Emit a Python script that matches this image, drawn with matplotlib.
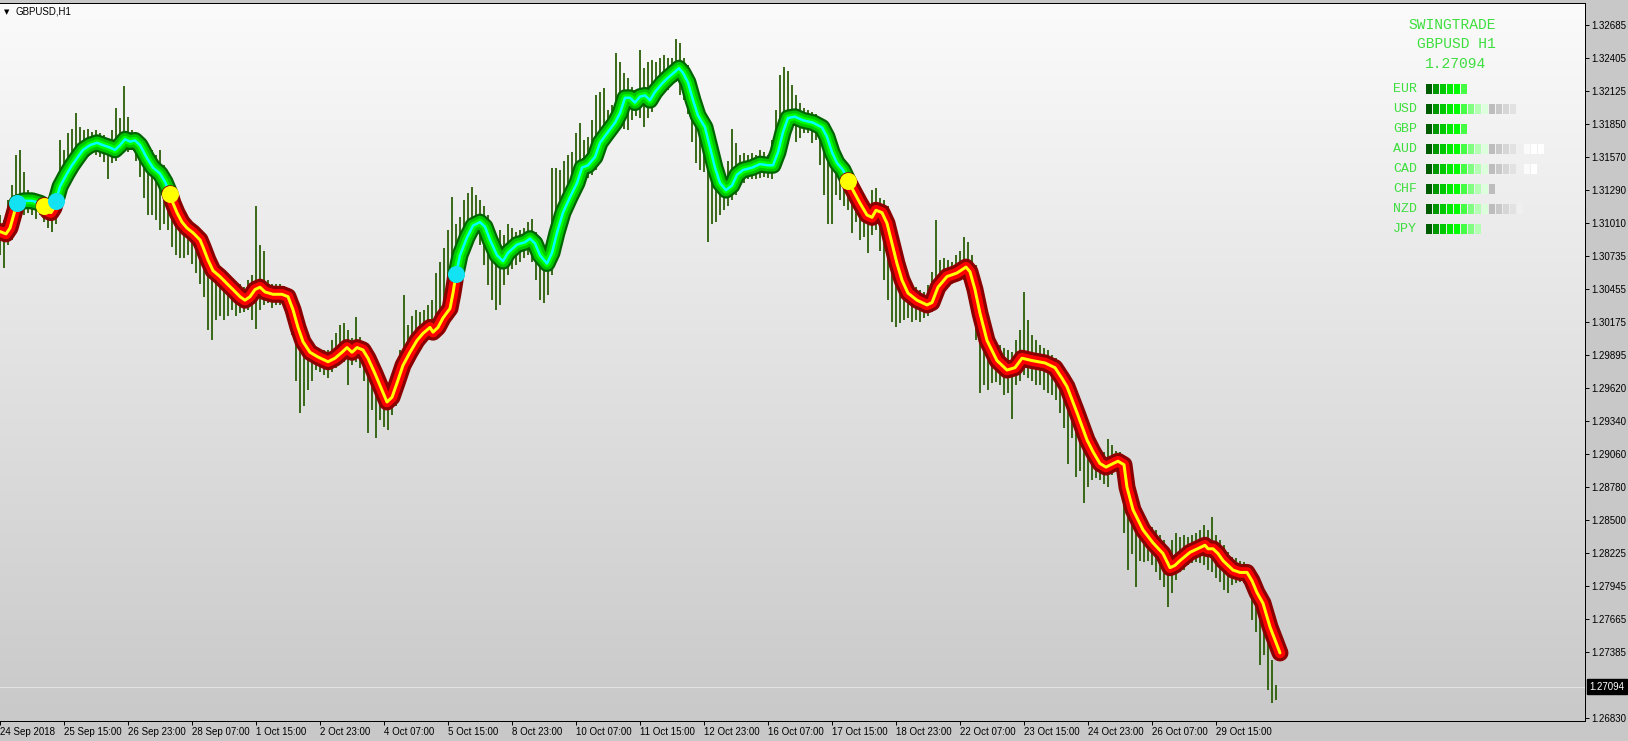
import numpy as np
import matplotlib.pyplot as plt
from matplotlib.colors import LinearSegmentedColormap

W, H = 1628, 741

# GBPUSD H1, 24 Sep - 30 Oct 2018
# one bar every 2 hours, prices in pips (x 1e-4)
bar_high = [
    13108, 13104, 13121, 13133, 13159, 13163, 13144, 13129, 13125, 13122,
    13125, 13122, 13121, 13125, 13133, 13171, 13163, 13177, 13181, 13194,
    13182, 13180, 13181, 13178, 13180, 13177, 13176, 13171, 13180, 13198,
    13190, 13217, 13191, 13180, 13177, 13176, 13171, 13167, 13163, 13159,
    13163, 13150, 13138, 13129, 13121, 13112, 13105, 13102, 13100, 13097,
    13094, 13087, 13078, 13070, 13066, 13063, 13060, 13057, 13055, 13050,
    13050, 13047, 13053, 13057, 13116, 13083, 13078, 13053, 13050, 13050,
    13050, 13048, 13046, 13039, 13028, 13015, 13007, 13002, 12998, 12996,
    12995, 12994, 12994, 13002, 13008, 13015, 13017, 13011, 13004, 13022,
    13005, 13001, 12994, 12985, 12979, 12973, 12964, 12960, 12964, 12974,
    12994, 13040, 13015, 13023, 13028, 13026, 13028, 13032, 13036, 13059,
    13068, 13080, 13095, 13123, 13100, 13106, 13121, 13127, 13132, 13125,
    13121, 13116, 13108, 13100, 13091, 13095, 13091, 13100, 13097, 13094,
    13095, 13097, 13102, 13105, 13094, 13087, 13083, 13078, 13148, 13148,
    13146, 13154, 13159, 13161, 13177, 13186, 13171, 13174, 13188, 13209,
    13212, 13215, 13197, 13201, 13245, 13237, 13228, 13224, 13216, 13214,
    13247, 13232, 13237, 13239, 13237, 13241, 13243, 13241, 13241, 13257,
    13253, 13241, 13235, 13222, 13209, 13201, 13195, 13184, 13167, 13154,
    13146, 13144, 13154, 13181, 13169, 13159, 13160, 13159, 13160, 13159,
    13163, 13161, 13159, 13171, 13197, 13226, 13233, 13230, 13218, 13209,
    13203, 13198, 13197, 13195, 13193, 13190, 13188, 13184, 13173, 13163,
    13159, 13154, 13146, 13138, 13132, 13125, 13121, 13116, 13129, 13131,
    13122, 13121, 13116, 13104, 13088, 13074, 13062, 13055, 13050, 13047,
    13045, 13043, 13049, 13060, 13104, 13070, 13072, 13070, 13068, 13074,
    13078, 13089, 13085, 13074, 13066, 13053, 13036, 13019, 13007, 13000,
    12998, 12996, 12994, 12992, 13002, 13011, 13043, 13019, 13007, 13002,
    12998, 12996, 12994, 12990, 12987, 12984, 12977, 12970, 12964, 12956,
    12947, 12939, 12928, 12918, 12914, 12909, 12908, 12919, 12914, 12909,
    12908, 12901, 12888, 12876, 12867, 12859, 12852, 12848, 12844, 12842,
    12838, 12833, 12825, 12833, 12839, 12836, 12838, 12836, 12838, 12839,
    12842, 12846, 12842, 12853, 12838, 12833, 12829, 12823, 12819, 12818,
    12816, 12815, 12810, 12801, 12791, 12778, 12770, 12757, 12732, 12711,
]
bar_low = [
    13074, 13063, 13083, 13087, 13099, 13112, 13108, 13110, 13108, 13105,
    13108, 13102, 13097, 13094, 13100, 13116, 13125, 13133, 13142, 13150,
    13154, 13156, 13159, 13161, 13159, 13157, 13153, 13138, 13152, 13154,
    13159, 13163, 13161, 13163, 13154, 13140, 13122, 13108, 13108, 13104,
    13095, 13100, 13095, 13081, 13074, 13072, 13072, 13074, 13067, 13059,
    13050, 13039, 13011, 13002, 13019, 13023, 13019, 13023, 13028, 13023,
    13025, 13026, 13028, 13019, 13012, 13028, 13032, 13034, 13029, 13032,
    13032, 13030, 13023, 13007, 12968, 12941, 12947, 12960, 12968, 12977,
    12975, 12973, 12970, 12975, 12979, 12984, 12984, 12964, 12981, 12984,
    12979, 12968, 12924, 12943, 12920, 12935, 12929, 12926, 12939, 12947,
    12960, 12970, 12977, 12985, 12994, 12998, 13001, 13002, 13002, 13004,
    13007, 13011, 13019, 13028, 13036, 13045, 13057, 13074, 13083, 13091,
    13083, 13066, 13049, 13036, 13028, 13032, 13049, 13057, 13062, 13066,
    13068, 13072, 13074, 13068, 13053, 13036, 13034, 13040, 13057, 13074,
    13087, 13095, 13108, 13116, 13125, 13133, 13138, 13139, 13142, 13146,
    13154, 13163, 13171, 13176, 13180, 13181, 13181, 13180, 13188, 13192,
    13190, 13182, 13190, 13195, 13201, 13207, 13211, 13214, 13218, 13220,
    13209, 13205, 13193, 13170, 13152, 13146, 13144, 13085, 13100, 13102,
    13108, 13112, 13116, 13121, 13125, 13133, 13135, 13138, 13138, 13138,
    13139, 13140, 13139, 13138, 13150, 13163, 13171, 13176, 13180, 13170,
    13173, 13177, 13177, 13169, 13171, 13150, 13125, 13100, 13100, 13125,
    13121, 13116, 13112, 13093, 13102, 13087, 13089, 13076, 13091, 13095,
    13078, 13053, 13036, 13018, 13013, 13017, 13019, 13021, 13018, 13019,
    13018, 13021, 13023, 13026, 13036, 13045, 13046, 13049, 13050, 13051,
    13053, 13053, 13045, 13028, 13002, 12958, 12964, 12960, 12966, 12967,
    12964, 12956, 12958, 12936, 12964, 12968, 12973, 12970, 12968, 12964,
    12964, 12960, 12958, 12956, 12952, 12941, 12928, 12898, 12920, 12887,
    12892, 12865, 12878, 12884, 12886, 12884, 12881, 12878, 12888, 12892,
    12886, 12839, 12808, 12822, 12794, 12816, 12815, 12816, 12812, 12806,
    12800, 12794, 12777, 12789, 12800, 12806, 12808, 12812, 12814, 12815,
    12814, 12812, 12808, 12806, 12801, 12798, 12791, 12789, 12795, 12797,
    12798, 12797, 12791, 12766, 12756, 12728, 12736, 12707, 12696, 12698,
]
bar_hour = np.arange(0, 2 * len(bar_high), 2)

# swing line: hour index and price in pips
line_hour = [
    0, 3, 5, 7, 8.5, 12, 16, 20, 22, 24,
    25.5, 27, 28, 30, 33.5, 36, 38.5, 41.5, 45, 48.5,
    51.5, 55, 57.5, 60, 62.5, 65, 67.5, 70, 73.5, 76.5,
    80, 82.5, 85, 86.5, 88.5, 91, 93.5, 96.5, 100, 101.5,
    104, 106.5, 110, 113.5, 116.5, 120, 122.5, 125, 127.5, 130,
    132.5, 136.5, 141, 144, 146.5, 149, 151.5, 155, 159, 164,
    167.5, 171, 173.5, 176, 178.5, 181.5, 184, 187.5, 191, 193.5,
    196, 198.5, 201.5, 205, 208.5, 211.5, 215, 216.5, 219, 221.5,
    225, 226.5, 228, 230, 233.5, 236.5, 240, 242.5, 245, 248.5,
    251.5, 254, 258.5, 262.5, 265, 267.5, 270, 273.5, 276, 278.5,
    281.5, 285, 288.5, 291, 294, 297.5, 300, 303.5, 307.5, 310,
    312.5, 315, 317.5, 320, 322.5, 325, 327.5, 331, 334, 337.5,
    339.5, 341.5, 344, 346.5, 349, 352.5, 355, 357.5, 360, 363,
    366, 368.5, 371.5, 376, 380, 384, 386.5, 389, 391.5, 394,
    397.5, 401.5, 406.5, 411, 413.5, 416, 418.5, 421.5, 424, 426.5,
    430, 433.5, 436, 438, 441, 443.5, 446, 448.5, 451, 454,
    458.5, 463.5, 466, 469, 473.5, 478.5, 483, 485, 487.5, 490,
    493.5, 498.5, 503.5, 507.5, 511, 516, 522.5, 527.5, 531, 533.5,
    538.5, 543.5, 546.5, 550, 553, 556.5, 559, 562, 563.5, 566.5,
    571.5, 576.5, 581.5, 585, 587.5, 590, 595, 600, 602.5, 604,
    606.5, 609, 611.5, 616.5, 620, 623.5, 626, 628.5, 631.5, 635,
    640,
]
line_pips = [
    13094, 13092, 13097, 13109, 13118, 13120, 13120, 13118, 13116, 13111,
    13110, 13114, 13120, 13132, 13143, 13150, 13156, 13163, 13167, 13169,
    13167, 13165, 13163, 13167, 13172, 13170, 13171, 13167, 13156, 13148,
    13143, 13136, 13126, 13118, 13110, 13102, 13097, 13093, 13087, 13081,
    13070, 13061, 13056, 13050, 13045, 13039, 13036, 13039, 13045, 13047,
    13043, 13041, 13041, 13039, 13028, 13013, 13001, 12992, 12988, 12984,
    12987, 12992, 12996, 12992, 12996, 12994, 12987, 12974, 12960, 12950,
    12954, 12966, 12981, 12992, 13002, 13008, 13013, 13009, 13013, 13021,
    13029, 13042, 13058, 13074, 13089, 13099, 13102, 13098, 13087, 13074,
    13069, 13076, 13083, 13085, 13088, 13084, 13074, 13067, 13076, 13093,
    13110, 13123, 13135, 13148, 13150, 13157, 13169, 13177, 13186, 13194,
    13207, 13207, 13203, 13208, 13209, 13205, 13212, 13219, 13224, 13229,
    13232, 13228, 13220, 13205, 13192, 13182, 13165, 13148, 13135, 13129,
    13133, 13142, 13146, 13148, 13151, 13150, 13150, 13161, 13178, 13190,
    13191, 13188, 13186, 13182, 13174, 13161, 13152, 13146, 13137, 13129,
    13118, 13108, 13106, 13112, 13110, 13101, 13084, 13067, 13053, 13042,
    13036, 13032, 13034, 13047, 13056, 13059, 13064, 13060, 13045, 13025,
    13002, 12985, 12977, 12979, 12987, 12985, 12983, 12979, 12970, 12963,
    12941, 12918, 12908, 12898, 12895, 12898, 12900, 12897, 12878, 12859,
    12842, 12831, 12822, 12810, 12812, 12816, 12823, 12827, 12829, 12826,
    12826, 12822, 12816, 12808, 12806, 12806, 12799, 12789, 12780, 12760,
    12738,
]

# trend switches (hour, new direction)
first_dir = 'down'
turn_hour = [8.5, 22, 28, 85, 228, 424]
turn_dir = ['up', 'down', 'up', 'down', 'up', 'down']

current_price = 1.27094

xtick_labels = ['24 Sep 2018', '25 Sep 15:00', '26 Sep 23:00', '28 Sep 07:00',
                '1 Oct 15:00', '2 Oct 23:00', '4 Oct 07:00', '5 Oct 15:00',
                '8 Oct 23:00', '10 Oct 07:00', '11 Oct 15:00', '12 Oct 23:00',
                '16 Oct 07:00', '17 Oct 15:00', '18 Oct 23:00', '22 Oct 07:00',
                '23 Oct 15:00', '24 Oct 23:00', '26 Oct 07:00', '29 Oct 15:00']
xtick_hours = np.arange(len(xtick_labels)) * 32
ytick_values = [1.32685, 1.32405, 1.32125, 1.31850, 1.31570, 1.31290, 1.31010,
                1.30735, 1.30455, 1.30175, 1.29895, 1.29620, 1.29340, 1.29060,
                1.28780, 1.28500, 1.28225, 1.27945, 1.27665, 1.27385, 1.26830]

currencies = ['EUR', 'USD', 'GBP', 'AUD', 'CAD', 'CHF', 'NZD', 'JPY']
strength = [6, 13, 6, 17, 16, 10, 14, 8]

#%% styles
px = 0.72  # points per pixel at dpi 100
line_layers = {
    'up': [('#006400', 17), ('#00c800', 12.5), ('#00ff00', 7), ('#00ffff', 2.5)],
    'down': [('#8b0000', 17), ('#ff0000', 10.5), ('#ffff00', 3)],
}
dot_color = {'up': '#12e2f2', 'down': '#ffff00'}
block_colors = ['#005a00', '#009800', '#00c800', '#00e800', '#00ff00', '#44ff44',
                '#80ff80', '#b4ffb4', '#dcffdc', '#bdbdbd', '#c8c8c8', '#d6d6d6',
                '#e2e2e2', '#efefef', '#fbfbfb', '#ffffff', '#ffffff']
txt_green = '#3ede3e'

#%% figure
fig = plt.figure(figsize=(W / 100, H / 100), dpi=100, facecolor='#c8c8c8')
ax = fig.add_axes([0, 20 / H, 1585 / W, 718 / H])

bg = LinearSegmentedColormap.from_list('bg', ['#fbfbfb', '#c9c9c9'])
ax.imshow(np.linspace(0, 1, 256).reshape(-1, 1), cmap=bg, extent=(0, 1, 0, 1),
          transform=ax.transAxes, aspect='auto', zorder=0)

ax.axhline(current_price, color='#e2e2e2', lw=1 * px, zorder=1)

high = np.array(bar_high) / 1e4
low = np.array(bar_low) / 1e4
ax.vlines(bar_hour, low, high, color='#2a5e08', lw=1.8 * px, zorder=2)

lh = np.array(line_hour)
lp = np.array(line_pips) / 1e4
bounds = [lh[0]] + turn_hour + [lh[-1]]
dirs = [first_dir] + turn_dir
for k, d in enumerate(dirs):
    m = (lh >= bounds[k]) & (lh <= bounds[k + 1])
    for z, (c, w) in enumerate(line_layers[d]):
        ax.plot(lh[m], lp[m], color=c, lw=w * px, solid_capstyle='round',
                solid_joinstyle='round', zorder=3 + k * 0.1 + z * 0.01)

turn_price = np.interp(turn_hour, lh, lp)
for h, p, d in zip(turn_hour, turn_price, turn_dir):
    ax.plot(h, p, 'o', ms=17 * px, color=dot_color[d], mec='none', zorder=5)

ax.set_xlim(0, 1585 / 2)
ax.set_ylim(1.26805, 1.32871)

ax.spines['left'].set_visible(False)
for s in ['right', 'bottom', 'top']:
    ax.spines[s].set_color('black')
    ax.spines[s].set_linewidth(1 * px)

ax.yaxis.tick_right()
ax.set_yticks(ytick_values)
ax.set_yticklabels([f'{v:.5f}' for v in ytick_values])
ax.set_xticks(xtick_hours)
ax.set_xticklabels(xtick_labels, ha='left')
ax.tick_params(axis='both', length=3, width=0.7, color='black', direction='out',
               labelsize=7, pad=1.5)
for t in ax.get_xticklabels() + ax.get_yticklabels():
    t.set_family('Liberation Sans')

ax.annotate(f'{current_price:.5f}', xy=(1, current_price),
            xycoords=('axes fraction', 'data'), xytext=(3, 0),
            textcoords='offset points', va='center', ha='left', fontsize=7,
            family='Liberation Sans', color='white',
            bbox=dict(boxstyle='square,pad=0.25', fc='black', ec='black'),
            annotation_clip=False)

fig.text(4 / W, 1 - 12 / H, '\u25bc', fontsize=5, va='center', ha='left')
fig.text(15 / W, 1 - 12 / H, 'GBPUSD,H1', fontsize=7, va='center', ha='left',
         family='Liberation Sans')

# strength panel
mono = 'Liberation Mono'
fig.text(1452 / W, 1 - 25 / H, 'SWINGTRADE', ha='center', va='center',
         family=mono, fontsize=10.5, color=txt_green)
fig.text(1456 / W, 1 - 44 / H, 'GBPUSD H1', ha='center', va='center',
         family=mono, fontsize=10.5, color=txt_green)
fig.text(1456 / W, 1 - 64 / H, f'{current_price:.5f}', ha='center', va='center',
         family=mono, fontsize=10.5, color=txt_green)

pax = fig.add_axes([1426 / W, 1 - 239.3 / H, 119 / W, 160 / H])
pax.set_xlim(0, 17)
pax.set_ylim(len(currencies) - 0.5, -0.5)
pax.axis('off')
rows = np.arange(len(currencies))
for k in range(17):
    r = rows[np.array(strength) > k]
    pax.barh(r, 6 / 7, left=k, height=0.5, color=block_colors[k])
for r, cur in enumerate(currencies):
    pax.text(-4.7, r, cur, ha='left', va='center', family=mono, fontsize=9.5,
             color=txt_green, clip_on=False)

fig.savefig('out.png', dpi=100, facecolor=fig.get_facecolor())
